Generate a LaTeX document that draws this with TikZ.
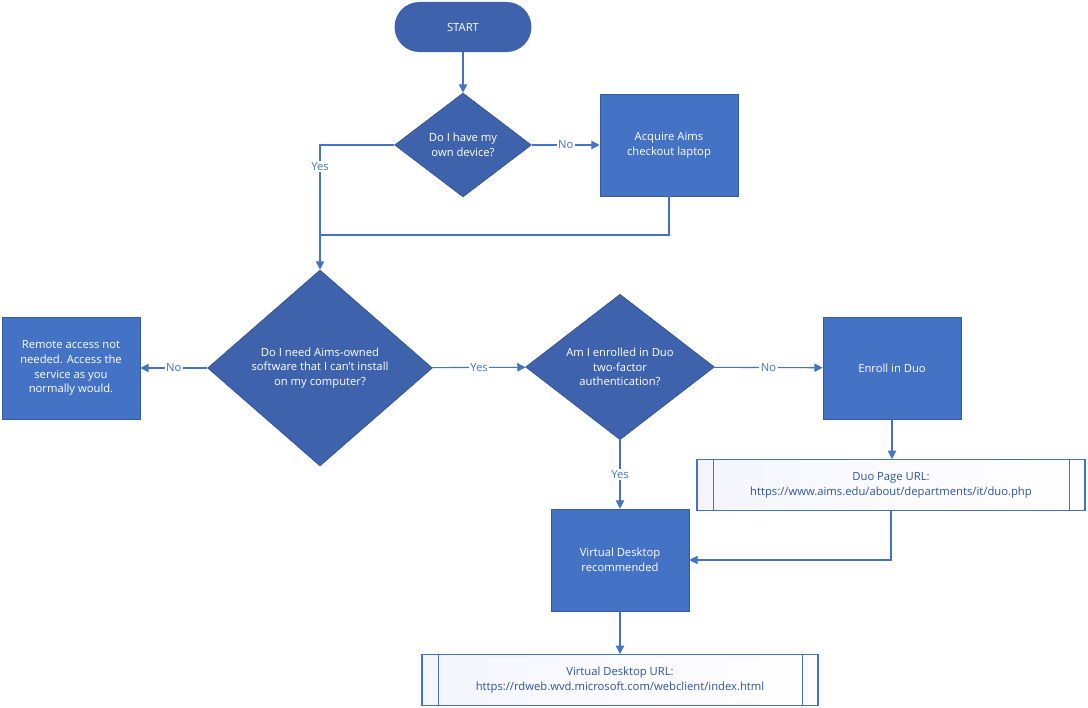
\documentclass[tikz,border=0pt]{standalone}
\usepackage{fontspec}
\setmainfont{Open Sans}
\usetikzlibrary{shapes.geometric,arrows.meta}
\definecolor{boxblue}{HTML}{4472C4}
\definecolor{darkblue}{HTML}{3E63AC}
\definecolor{urltext}{HTML}{2F5597}
\tikzset{
  every node/.style={font=\fontsize{8}{10.5}\selectfont, align=center},
  action/.style={rectangle, fill=boxblue, draw=boxblue!80!black, text=white, minimum width=3.45cm, minimum height=2.55cm, inner sep=1pt},
  question/.style={diamond, fill=darkblue, draw=darkblue!80!black, text=white, inner sep=0pt},
  link/.style={rectangle, draw=boxblue, thick, text=urltext, left color=blue!4, right color=white, minimum height=1.27cm},
  flow/.style={boxblue, thick, -{Triangle[length=6pt,width=6pt]}},
  lbl/.style={fill=white, text=boxblue, inner sep=1pt}
}
\begin{document}
\begin{tikzpicture}[x=0.025cm, y=-0.025cm]
  \useasboundingbox (0,0) rectangle (1088,708);

  \node[rectangle, rounded corners=0.62cm, fill=darkblue, text=white, minimum width=3.42cm, minimum height=1.25cm] (start) at (463,27) {START};
  \node[question, minimum width=3.42cm, minimum height=2.6cm] (own) at (463,145) {Do I have my\\own device?};
  \node[action] (laptop) at (669,145) {Acquire Aims\\checkout laptop};
  \node[question, minimum width=5.62cm, minimum height=4.9cm] (soft) at (320,368) {Do I need Aims-owned\\software that I can't install\\on my computer?};
  \node[action] (remote) at (71,368) {Remote access not\\needed. Access the\\service as you\\normally would.};
  \node[question, minimum width=4.72cm, minimum height=3.5cm] (duo) at (620,367) {Am I enrolled in Duo\\two-factor\\authentication?};
  \node[action] (enroll) at (892,368) {Enroll in Duo};
  \node[link, minimum width=9.7cm] (duourl) at (891,485) {Duo Page URL:\\https://www.aims.edu/about/departments/it/duo.php};
  \node[action] (vd) at (620,560) {Virtual Desktop\\recommended};
  \node[link, minimum width=9.9cm] (vdurl) at (620,680) {Virtual Desktop URL:\\https://rdweb.wvd.microsoft.com/webclient/index.html};

  % predefined process bars
  \foreach \n in {duourl, vdurl} {
    \draw[boxblue] ([xshift=0.42cm]\n.north west) -- ([xshift=0.42cm]\n.south west);
    \draw[boxblue] ([xshift=-0.42cm]\n.north east) -- ([xshift=-0.42cm]\n.south east);
  }

  \coordinate (join) at (320,235);
  \draw[flow] (start) -- (own);
  \draw[flow] (own) -- node[lbl] {No} (laptop);
  \draw[boxblue, thick] (own.west) -| node[lbl, pos=0.62] {Yes} (join);
  \draw[boxblue, thick] (laptop.south) |- (join);
  \draw[flow] (join) -- (soft.north);
  \draw[flow] (soft) -- node[lbl] {No} (remote);
  \draw[flow] (soft) -- node[lbl] {Yes} (duo);
  \draw[flow] (duo) -- node[lbl] {No} (enroll);
  \draw[flow] (enroll) -- (duourl.north -| enroll);
  \draw[flow] (duo) -- node[lbl] {Yes} (vd);
  \draw[flow] (duourl.south) |- (vd.east);
  \draw[flow] (vd) -- (vdurl);
\end{tikzpicture}
\end{document}
